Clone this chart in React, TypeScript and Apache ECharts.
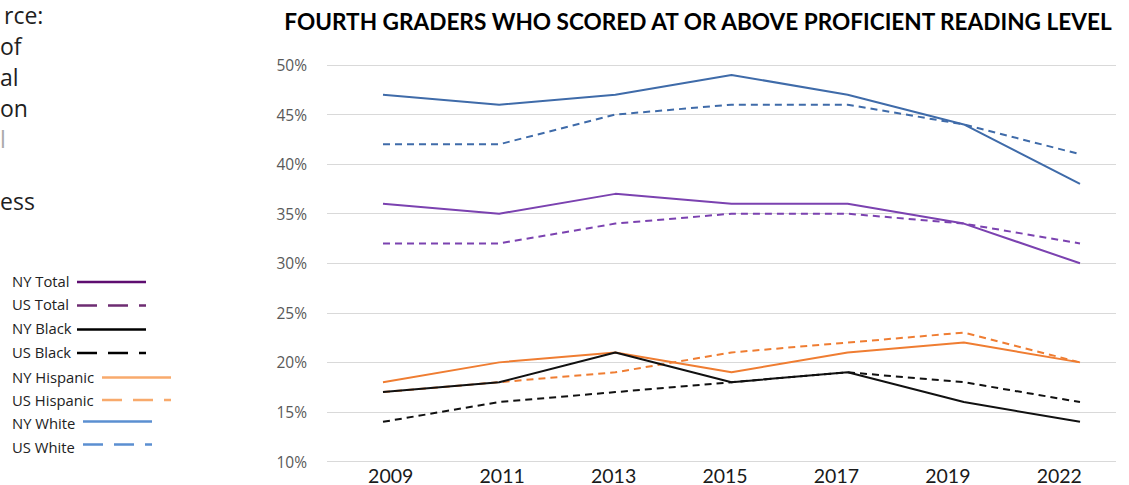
import React, { useEffect, useRef } from "react";
import * as echarts from "echarts";

const years = ["2009", "2011", "2013", "2015", "2017", "2019", "2022"];
const nyTotal = [36, 35, 37, 36, 36, 34, 30];
const usTotal = [32, 32, 34, 35, 35, 34, 32];
const nyBlack = [17, 18, 21, 18, 19, 16, 14];
const usBlack = [14, 16, 17, 18, 19, 18, 16];
const nyHispanic = [18, 20, 21, 19, 21, 22, 20];
const usHispanic = [17, 18, 19, 21, 22, 23, 20];
const nyWhite = [47, 46, 47, 49, 47, 44, 38];
const usWhite = [42, 42, 45, 46, 46, 44, 41];

const yTicks = { min: 10, max: 50, interval: 5 };

const titleText = "FOURTH GRADERS WHO SCORED AT OR ABOVE PROFICIENT READING LEVEL";
const sourceFragments = ["rce:", "of", "al", "on", "l", "", "ess"];

const seriesDefs = [
  { name: "NY White", data: nyWhite, color: "#3f6ba9", dashed: false, legendColor: "#5b8fd1" },
  { name: "US White", data: usWhite, color: "#3f6ba9", dashed: true, legendColor: "#5b8fd1" },
  { name: "NY Total", data: nyTotal, color: "#7b42b0", dashed: false, legendColor: "#5e0d70" },
  { name: "US Total", data: usTotal, color: "#7b42b0", dashed: true, legendColor: "#6e2c72" },
  { name: "NY Hispanic", data: nyHispanic, color: "#ef7d32", dashed: false, legendColor: "#f8aa6c" },
  { name: "US Hispanic", data: usHispanic, color: "#ef7d32", dashed: true, legendColor: "#f8aa6c" },
  { name: "NY Black", data: nyBlack, color: "#111111", dashed: false, legendColor: "#000000" },
  { name: "US Black", data: usBlack, color: "#111111", dashed: true, legendColor: "#000000" },
];

const legendOrder = ["NY Total", "US Total", "NY Black", "US Black", "NY Hispanic", "US Hispanic", "NY White", "US White"];
const legendLayout: Record<string, { ty: number; lx: number; ly: number }> = {
  "NY Total": { ty: 281, lx: 77, ly: 282 },
  "US Total": { ty: 304, lx: 77, ly: 305.5 },
  "NY Black": { ty: 328, lx: 77, ly: 329.5 },
  "US Black": { ty: 352, lx: 77, ly: 353 },
  "NY Hispanic": { ty: 376.5, lx: 102, ly: 377.5 },
  "US Hispanic": { ty: 399.5, lx: 102, ly: 400 },
  "NY White": { ty: 423, lx: 83, ly: 421.5 },
  "US White": { ty: 447, lx: 83, ly: 444.5 },
};

export default function App() {
  const ref = useRef<HTMLDivElement>(null);
  useEffect(() => {
    document.body.style.margin = "0";
    if (!ref.current) return;
    const chart = echarts.init(ref.current, undefined, { renderer: "svg" });

    const graphics: any[] = [];
    graphics.push({
      type: "text",
      style: {
        text: titleText,
        x: 698,
        y: 21,
        align: "center",
        verticalAlign: "middle",
        fill: "#000",
        font: "bold 22.6px Lato",
      },
    });
    const srcX = [4, 0, 0, 0, 0, 0, 0];
    sourceFragments.forEach((t, i) => {
      if (!t) return;
      graphics.push({
        type: "text",
        style: {
          text: t,
          x: srcX[i],
          y: 26 + i * 31,
          verticalAlign: "bottom",
          fill: i === 4 ? "#aaaaaa" : "#1e1e1e",
          font: "23px 'Open Sans'",
        },
      });
    });
    legendOrder.forEach((name) => {
      const def = seriesDefs.find((s) => s.name === name)!;
      const lay = legendLayout[name];
      graphics.push({
        type: "text",
        style: {
          text: name,
          x: 12,
          y: lay.ty,
          verticalAlign: "middle",
          fill: "#222",
          font: "14.8px 'Open Sans'",
        },
      });
      graphics.push({
        type: "line",
        shape: { x1: lay.lx, y1: lay.ly, x2: lay.lx + 69, y2: lay.ly },
        style: {
          stroke: def.legendColor,
          lineWidth: 2.5,
          lineDash: def.dashed ? [20, 11] : null,
        },
      });
    });

    const gridV = { top: 65, bottom: 23.5 };
    chart.setOption({
      animation: false,
      grid: [
        { left: 327, right: 13, ...gridV },
        { left: 335, right: 14, ...gridV },
        { left: 383, right: 49, ...gridV },
      ],
      xAxis: [
        { type: "category", gridIndex: 0, data: years, show: false },
        {
          type: "category",
          gridIndex: 1,
          data: years,
          boundaryGap: true,
          axisLine: { show: false },
          axisTick: { show: false },
          axisLabel: { color: "#1a1a1a", fontSize: 19.5, lineHeight: 16, fontFamily: "Lato", margin: 6 },
        },
        { type: "category", gridIndex: 2, data: years, boundaryGap: false, show: false },
      ],
      yAxis: [
        {
          type: "value",
          gridIndex: 0,
          ...yTicks,
          axisLine: { show: false },
          axisTick: { show: false },
          axisLabel: {
            formatter: "{value}%",
            color: "#595959",
            fontSize: 15.5,
            fontFamily: "Open Sans",
            margin: 20,
          },
          splitLine: { lineStyle: { color: "#d9d9d9", width: 1 } },
        },
        { type: "value", gridIndex: 1, ...yTicks, show: false, splitLine: { show: false } },
        { type: "value", gridIndex: 2, ...yTicks, show: false, splitLine: { show: false } },
      ],
      graphic: graphics,
      series: seriesDefs.map((s) => ({
        name: s.name,
        type: "line",
        xAxisIndex: 2,
        yAxisIndex: 2,
        data: s.data,
        symbol: "none",
        lineStyle: { color: s.color, width: 2, type: s.dashed ? [7, 5] : "solid" },
        itemStyle: { color: s.color },
      })),
    });
    return () => chart.dispose();
  }, []);
  return <div ref={ref} style={{ width: 1129, height: 485 }} />;
}
